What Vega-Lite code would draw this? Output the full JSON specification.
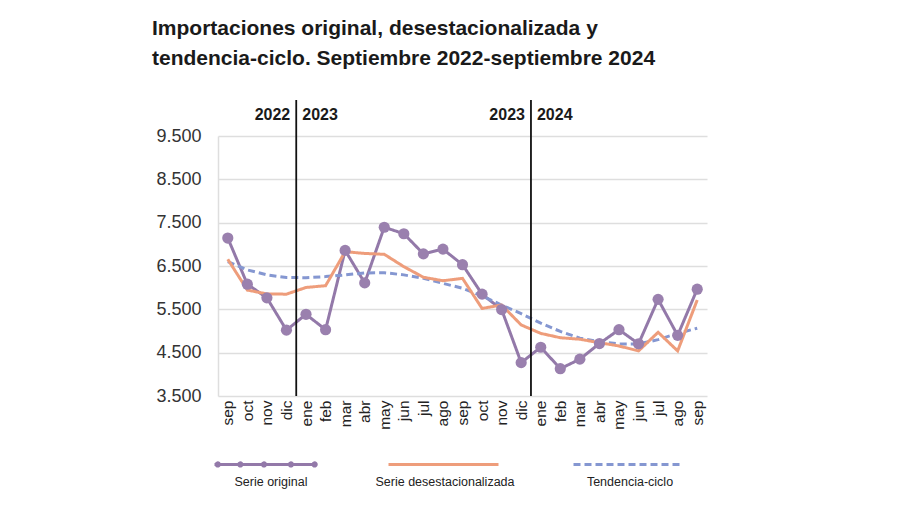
{
  "$schema": "https://vega.github.io/schema/vega-lite/v6.json",
  "width": 489,
  "height": 260,
  "autosize": {"type": "none"},
  "padding": {"left": 218, "top": 136, "right": 193, "bottom": 109},
  "background": "white",
  "title": {
    "text": ["Importaciones original, desestacionalizada y", "tendencia-ciclo. Septiembre 2022-septiembre 2024"],
    "anchor": "start",
    "frame": "group",
    "dx": -66,
    "offset": 30,
    "font": "Liberation Sans",
    "fontSize": 21,
    "fontWeight": "bold",
    "color": "#1a1a1a",
    "lineHeight": 30
  },
  "config": {
    "view": {"stroke": null},
    "legend": {
      "orient": "none",
      "legendX": -5,
      "legendY": 289,
      "direction": "horizontal",
      "padding": 0,
      "symbolSize": 12100,
      "symbolStrokeWidth": 3,
      "labelOffset": -55,
      "labelAlign": "center",
      "labelBaseline": "middle",
      "labelFontSize": 12.5,
      "labelFont": "Liberation Sans Narrow, Arial Narrow, Liberation Sans, sans-serif",
      "labelColor": "#222",
      "columnPadding": 52
    }
  },
  "datasets": {
    "serie": [
      {"i": 0, "original": 7145, "desest": 6655, "tendencia": 6600},
      {"i": 1, "original": 6080, "desest": 5945, "tendencia": 6410},
      {"i": 2, "original": 5765, "desest": 5855, "tendencia": 6295},
      {"i": 3, "original": 5020, "desest": 5850, "tendencia": 6235},
      {"i": 4, "original": 5385, "desest": 6005, "tendencia": 6230},
      {"i": 5, "original": 5030, "desest": 6045, "tendencia": 6255},
      {"i": 6, "original": 6860, "desest": 6830, "tendencia": 6295},
      {"i": 7, "original": 6110, "desest": 6790, "tendencia": 6340},
      {"i": 8, "original": 7395, "desest": 6770, "tendencia": 6345},
      {"i": 9, "original": 7245, "desest": 6485, "tendencia": 6295},
      {"i": 10, "original": 6780, "desest": 6240, "tendencia": 6215},
      {"i": 11, "original": 6890, "desest": 6160, "tendencia": 6100},
      {"i": 12, "original": 6530, "desest": 6215, "tendencia": 5985},
      {"i": 13, "original": 5850, "desest": 5520, "tendencia": 5810},
      {"i": 14, "original": 5495, "desest": 5600, "tendencia": 5600},
      {"i": 15, "original": 4270, "desest": 5140, "tendencia": 5400},
      {"i": 16, "original": 4625, "desest": 4945, "tendencia": 5180},
      {"i": 17, "original": 4130, "desest": 4845, "tendencia": 4990},
      {"i": 18, "original": 4350, "desest": 4810, "tendencia": 4835},
      {"i": 19, "original": 4710, "desest": 4730, "tendencia": 4755},
      {"i": 20, "original": 5030, "desest": 4655, "tendencia": 4700},
      {"i": 21, "original": 4705, "desest": 4540, "tendencia": 4700},
      {"i": 22, "original": 5730, "desest": 4970, "tendencia": 4800},
      {"i": 23, "original": 4900, "desest": 4540, "tendencia": 4945},
      {"i": 24, "original": 5965, "desest": 5715, "tendencia": 5065}
    ],
    "cortes": [
      {"i": 3.5, "antes": "2022", "despues": "2023"},
      {"i": 15.5, "antes": "2023", "despues": "2024"}
    ]
  },
  "encoding": {
    "x": {
      "field": "i",
      "type": "quantitative",
      "scale": {"domain": [-0.5, 24.5], "nice": false, "zero": false},
      "axis": {
        "title": null,
        "values": [0,1,2,3,4,5,6,7,8,9,10,11,12,13,14,15,16,17,18,19,20,21,22,23,24],
        "labelExpr": "['sep','oct','nov','dic','ene','feb','mar','abr','may','jun','jul','ago'][datum.value % 12]",
        "labelAngle": 270,
        "labelFont": "Liberation Sans Narrow, Arial Narrow, Liberation Sans, sans-serif",
        "labelFontSize": 15.5,
        "labelColor": "#222",
        "labelPadding": 4,
        "labelOverlap": false,
        "labelFlush": false,
        "ticks": false,
        "domain": false,
        "grid": false
      }
    }
  },
  "layer": [
    {
      "data": {"name": "serie"},
      "transform": [{"fold": ["original", "tendencia", "desest"], "as": ["key", "v"]}],
      "mark": {"type": "line", "strokeWidth": 3},
      "encoding": {
        "y": {
          "field": "v",
          "type": "quantitative",
          "scale": {"domain": [3500, 9500], "nice": false, "zero": false},
          "axis": {
            "title": null,
            "values": [3500, 4500, 5500, 6500, 7500, 8500, 9500],
            "labelExpr": "replace(format(datum.value, ','), ',', '.')",
            "labelFont": "Liberation Sans",
            "labelFontSize": 18,
            "labelColor": "#333",
            "labelPadding": 17,
            "ticks": false,
            "domainColor": "#dedede",
            "domainWidth": 1.5,
            "gridColor": "#dedede",
            "gridWidth": 1.5
          }
        },
        "stroke": {
          "field": "key",
          "type": "nominal",
          "scale": {"domain": ["original", "desest", "tendencia"], "range": ["#9379a9", "#ee9d7b", "#8597d1"]},
          "legend": {
            "title": null,
            "labelExpr": "datum.label == 'original' ? 'Serie original' : datum.label == 'desest' ? 'Serie desestacionalizada' : 'Tendencia-ciclo'",
            "symbolType": "M-1,-0.31H1",
            "encode": {
              "symbols": {
                "update": {
                  "shape": {"signal": "datum.value == 'original' ? 'M-1,-0.31H0.85M-0.97,-0.31a0.03,0.03 0 1,0 0.06,0a0.03,0.03 0 1,0 -0.06,0M-0.56,-0.31a0.03,0.03 0 1,0 0.06,0a0.03,0.03 0 1,0 -0.06,0M-0.13,-0.31a0.03,0.03 0 1,0 0.06,0a0.03,0.03 0 1,0 -0.06,0M0.36,-0.31a0.03,0.03 0 1,0 0.06,0a0.03,0.03 0 1,0 -0.06,0M0.79,-0.31a0.03,0.03 0 1,0 0.06,0a0.03,0.03 0 1,0 -0.06,0' : 'M-1,-0.31H1'"}
                }
              }
            }
          }
        },
        "strokeDash": {
          "field": "key",
          "type": "nominal",
          "scale": {"domain": ["original", "desest", "tendencia"], "range": [[1, 0], [1, 0], [7, 4]]},
          "legend": {
            "title": null,
            "labelExpr": "datum.label == 'original' ? 'Serie original' : datum.label == 'desest' ? 'Serie desestacionalizada' : 'Tendencia-ciclo'"
          }
        }
      }
    },
    {
      "data": {"name": "serie"},
      "mark": {"type": "circle", "size": 125, "opacity": 1, "color": "#9a80ae"},
      "encoding": {
        "y": {"field": "original", "type": "quantitative"}
      }
    },
    {
      "data": {"name": "cortes"},
      "mark": {"type": "rule", "color": "#111", "strokeWidth": 1.8},
      "encoding": {
        "y": {"datum": 3500},
        "y2": {"datum": 10330}
      }
    },
    {
      "data": {"name": "cortes"},
      "mark": {"type": "text", "align": "right", "baseline": "middle", "dx": -6, "font": "Liberation Sans Narrow, Arial Narrow, Liberation Sans, sans-serif", "fontSize": 16, "fontWeight": "bold", "color": "#1a1a1a"},
      "encoding": {
        "y": {"datum": 9985},
        "text": {"field": "antes"}
      }
    },
    {
      "data": {"name": "cortes"},
      "mark": {"type": "text", "align": "left", "baseline": "middle", "dx": 6, "font": "Liberation Sans Narrow, Arial Narrow, Liberation Sans, sans-serif", "fontSize": 16, "fontWeight": "bold", "color": "#1a1a1a"},
      "encoding": {
        "y": {"datum": 9985},
        "text": {"field": "despues"}
      }
    }
  ]
}
